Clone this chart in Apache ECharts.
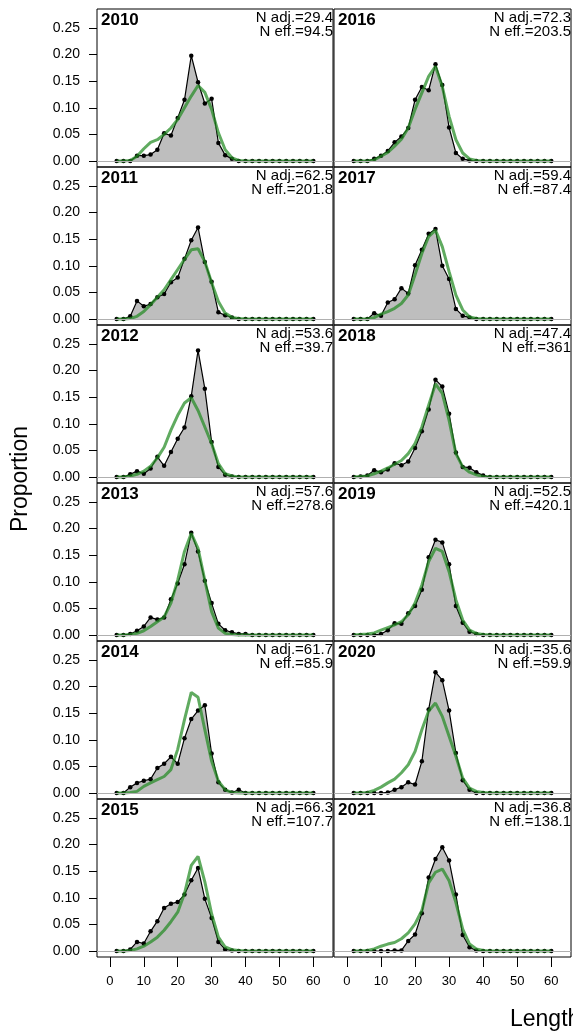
<!DOCTYPE html>
<html><head><meta charset="utf-8">
<script src="https://cdn.jsdelivr.net/npm/echarts@6/dist/echarts.min.js"></script>
<style>html,body{margin:0;padding:0;background:#fff}#c{width:573px;height:1034px}</style>
</head><body><div id="c"></div>
<script>
const lengths = [2,4,6,8,10,12,14,16,18,20,22,24,26,28,30,32,34,36,38,40,42,44,46,48,50,52,54,56,58,60];
const years = ['2010','2011','2012','2013','2014','2015','2016','2017','2018','2019','2020','2021'];
const nAdj = ['29.4','62.5','53.6','57.6','61.7','66.3','72.3','59.4','47.4','52.5','35.6','36.8'];
const nEff = ['94.5','201.8','39.7','278.6','85.9','107.7','203.5','87.4','361','420.1','59.9','138.1'];
const xTicks = [0,10,20,30,40,50,60];
const yTicks = [0,0.05,0.10,0.15,0.20,0.25];

const obs2010 = [0,0,0,0.010,0.010,0.012,0.021,0.052,0.048,0.081,0.115,0.198,0.148,0.108,0.117,0.034,0.011,0.004,0,0,0,0,0,0,0,0,0,0,0,0];
const exp2010 = [0,0,0.001,0.009,0.023,0.035,0.040,0.050,0.062,0.078,0.100,0.122,0.142,0.129,0.097,0.053,0.021,0.006,0.001,0,0,0,0,0,0,0,0,0,0,0];
const obs2011 = [0,0,0.005,0.034,0.024,0.028,0.041,0.047,0.069,0.078,0.113,0.148,0.172,0.107,0.070,0.0125,0.007,0.003,0,0,0,0,0,0,0,0,0,0,0,0];
const exp2011 = [0,0,0.001,0.005,0.014,0.027,0.041,0.055,0.074,0.093,0.112,0.130,0.132,0.108,0.068,0.033,0.011,0.003,0.001,0,0,0,0,0,0,0,0,0,0,0];
const obs2012 = [0,0,0.005,0.011,0.006,0.016,0.038,0.021,0.047,0.072,0.093,0.152,0.238,0.166,0.066,0.019,0.004,0.001,0,0,0,0,0,0,0,0,0,0,0,0];
const exp2012 = [0,0,0.002,0.005,0.011,0.020,0.036,0.056,0.088,0.116,0.139,0.149,0.125,0.094,0.063,0.025,0.006,0.002,0,0,0,0,0,0,0,0,0,0,0,0];
const obs2013 = [0,0,0.002,0.008,0.016,0.033,0.029,0.033,0.067,0.097,0.133,0.192,0.157,0.102,0.060,0.021,0.009,0.005,0.002,0.002,0,0,0,0,0,0,0,0,0,0];
const exp2013 = [0,0,0.001,0.003,0.008,0.016,0.025,0.034,0.060,0.103,0.157,0.191,0.163,0.103,0.044,0.013,0.003,0.001,0,0,0,0,0,0,0,0,0,0,0,0];
const obs2014 = [0,0,0.011,0.019,0.023,0.026,0.047,0.055,0.068,0.055,0.103,0.139,0.155,0.165,0.074,0.020,0.006,0.001,0.006,0,0,0,0,0,0,0,0,0,0,0];
const exp2014 = [0,0,0.001,0.003,0.0125,0.019,0.025,0.031,0.044,0.082,0.138,0.189,0.180,0.119,0.060,0.022,0.006,0.001,0,0,0,0,0,0,0,0,0,0,0,0];
const obs2015 = [0,0,0.003,0.017,0.014,0.037,0.056,0.081,0.089,0.092,0.106,0.133,0.156,0.098,0.062,0.017,0.003,0.001,0,0,0,0,0,0,0,0,0,0,0,0];
const exp2015 = [0,0,0.001,0.004,0.009,0.017,0.026,0.039,0.055,0.073,0.108,0.161,0.178,0.130,0.070,0.026,0.0075,0.0025,0.001,0,0,0,0,0,0,0,0,0,0,0];
const obs2016 = [0,0,0,0.004,0.010,0.019,0.035,0.046,0.062,0.115,0.139,0.133,0.182,0.143,0.063,0.015,0.004,0.001,0,0,0,0,0,0,0,0,0,0,0,0];
const exp2016 = [0,0,0,0.002,0.009,0.016,0.028,0.041,0.062,0.097,0.128,0.159,0.178,0.140,0.084,0.040,0.015,0.004,0.001,0,0,0,0,0,0,0,0,0,0,0];
const obs2017 = [0,0,0,0.011,0.006,0.031,0.037,0.058,0.048,0.101,0.130,0.160,0.169,0.100,0.075,0.019,0.006,0.003,0,0,0,0,0,0,0,0,0,0,0,0];
const exp2017 = [0,0,0,0.0025,0.009,0.014,0.020,0.029,0.045,0.083,0.123,0.155,0.167,0.136,0.089,0.045,0.017,0.004,0.001,0,0,0,0,0,0,0,0,0,0,0];
const obs2018 = [0,0.001,0.003,0.0125,0.009,0.014,0.026,0.022,0.029,0.0545,0.086,0.127,0.183,0.170,0.119,0.046,0.019,0.0175,0.009,0.003,0,0,0,0,0,0,0,0,0,0];
const exp2018 = [0,0.001,0.002,0.006,0.011,0.017,0.024,0.031,0.044,0.063,0.094,0.135,0.175,0.157,0.1065,0.044,0.019,0.009,0.004,0.001,0,0,0,0,0,0,0,0,0,0];
const obs2019 = [0,0,0,0,0.002,0.009,0.022,0.021,0.041,0.0545,0.085,0.146,0.179,0.174,0.133,0.0545,0.023,0.006,0.002,0,0,0,0,0,0,0,0,0,0,0];
const exp2019 = [0,0.001,0.002,0.004,0.009,0.014,0.019,0.025,0.038,0.060,0.094,0.138,0.163,0.157,0.119,0.066,0.028,0.009,0.003,0.001,0,0,0,0,0,0,0,0,0,0];
const obs2020 = [0,0,0,0,0,0.001,0.006,0.011,0.020,0.016,0.0595,0.157,0.227,0.212,0.155,0.075,0.024,0.006,0,0,0,0,0,0,0,0,0,0,0,0];
const exp2020 = [0,0,0.001,0.005,0.011,0.019,0.026,0.038,0.053,0.078,0.119,0.154,0.169,0.144,0.1065,0.069,0.028,0.009,0.003,0.001,0,0,0,0,0,0,0,0,0,0];
const obs2021 = [0,0,0,0,0,0,0.001,0.001,0.019,0.031,0.071,0.138,0.173,0.195,0.170,0.106,0.030,0.007,0.001,0,0,0,0,0,0,0,0,0,0,0];
const exp2021 = [0,0,0.001,0.004,0.009,0.013,0.016,0.023,0.034,0.051,0.076,0.128,0.148,0.154,0.132,0.091,0.041,0.013,0.004,0.001,0,0,0,0,0,0,0,0,0,0];

const observed = [obs2010,obs2011,obs2012,obs2013,obs2014,obs2015,obs2016,obs2017,obs2018,obs2019,obs2020,obs2021];
const expected = [exp2010,exp2011,exp2012,exp2013,exp2014,exp2015,exp2016,exp2017,exp2018,exp2019,exp2020,exp2021];

const FONT = '"Liberation Sans", Arial, sans-serif';
const grids=[], xAxes=[], yAxes=[], series=[], graphics=[];
const PH = 158, TOP0 = 9;
for (let i=0;i<12;i++){
  const col = Math.floor(i/6), row = i%6;
  const left = col ? 334 : 97, width = col ? 237 : 236, top = TOP0 + row*PH;
  grids.push({left:left, top:top, width:width, height:PH, show:true, borderColor:'#000', borderWidth:1, backgroundColor:'transparent', containLabel:false});
  const bottomRow = row===5, leftCol = col===0;
  xAxes.push({type:'value', gridIndex:i, min:-3.8, max:65.8, position:'bottom',
    axisLine:{show:false, onZero:false}, splitLine:{show:false},
    axisTick:{show:bottomRow, customValues:xTicks, length:10, lineStyle:{color:'#000'}},
    axisLabel:{show:bottomRow, customValues:xTicks, margin:18, color:'#000', fontSize:13, fontFamily:FONT}});
  yAxes.push({type:'value', gridIndex:i, min:-0.0113, max:0.2857, position:'left',
    axisLine:{show:false, onZero:false}, splitLine:{show:false},
    axisTick:{show:leftCol, customValues:yTicks, length:8, lineStyle:{color:'#000'}},
    axisLabel:{show:leftCol, customValues:yTicks, margin:17, color:'#000', fontSize:14, fontFamily:FONT,
      formatter:v=>v.toFixed(2)}});
  series.push({type:'line', xAxisIndex:i, yAxisIndex:i, data:lengths.map((x,k)=>[x,observed[i][k]]),
    symbol:'circle', symbolSize:4.5, showSymbol:true, itemStyle:{color:'#000'},
    lineStyle:{color:'#000', width:1.2}, areaStyle:{color:'#bebebe', opacity:1}, z:2,
    markLine:{silent:true, symbol:'none', label:{show:false}, lineStyle:{color:'#b0b0b0', width:1, type:'solid'}, data:[{yAxis:0}], animation:false}});
  series.push({type:'line', xAxisIndex:i, yAxisIndex:i, data:lengths.map((x,k)=>[x,expected[i][k]]),
    symbol:'none', lineStyle:{color:'rgba(34,139,34,0.72)', width:3}, z:3});
  graphics.push({type:'text', x:left+4, y:top+3, style:{text:years[i], font:'bold 17px '+FONT, fill:'#000', align:'left', verticalAlign:'top'}});
  graphics.push({type:'text', x:left+width, y:top+1, style:{text:'N adj.='+nAdj[i], font:'15px '+FONT, fill:'#000', align:'right', verticalAlign:'top'}});
  graphics.push({type:'text', x:left+width, y:top+15.5, style:{text:'N eff.='+nEff[i], font:'15px '+FONT, fill:'#000', align:'right', verticalAlign:'top'}});
}
graphics.push({type:'text', x:21, y:479, rotation:Math.PI/2, style:{text:'Proportion', font:'23px '+FONT, fill:'#000', align:'center', verticalAlign:'middle'}});
graphics.push({type:'text', x:510, y:1020, style:{text:'Length', font:'23px '+FONT, fill:'#000', align:'left', verticalAlign:'middle'}});

const chart = echarts.init(document.getElementById('c'), null, {renderer:'canvas'});
chart.setOption({animation:false, backgroundColor:'#fff', grid:grids, xAxis:xAxes, yAxis:yAxes, series:series, graphic:graphics});
</script></body></html>
